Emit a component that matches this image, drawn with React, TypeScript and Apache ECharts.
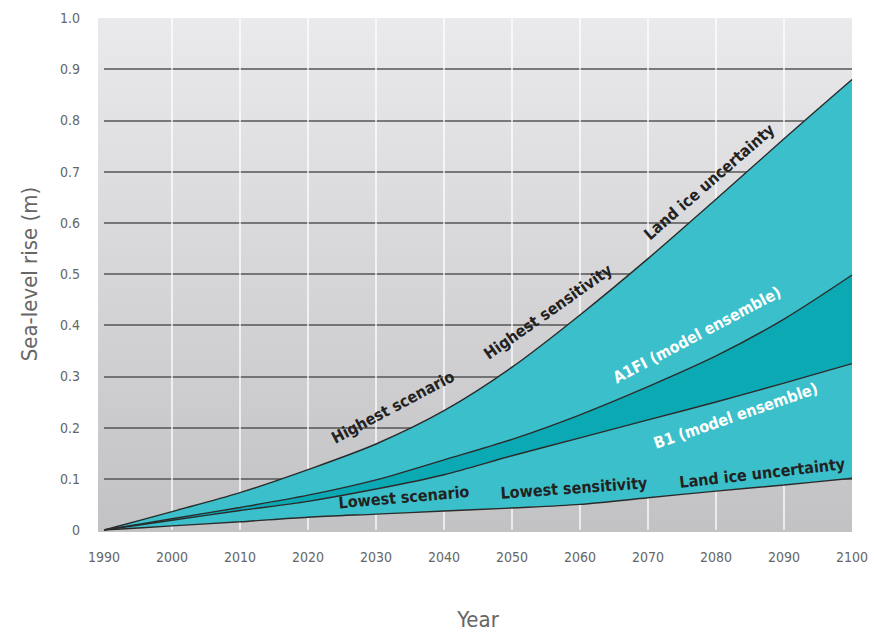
import React, { useEffect, useRef } from "react";
import * as echarts from "echarts";

const years = ["1990", "2000", "2010", "2020", "2030", "2040", "2050", "2060", "2070", "2080", "2090", "2100"];
const highest = [0, 0.036, 0.073, 0.118, 0.168, 0.233, 0.318, 0.42, 0.53, 0.646, 0.764, 0.88];
const a1fi = [0, 0.022, 0.044, 0.068, 0.098, 0.137, 0.177, 0.225, 0.28, 0.34, 0.412, 0.498];
const b1 = [0, 0.019, 0.038, 0.056, 0.08, 0.108, 0.145, 0.18, 0.215, 0.25, 0.287, 0.325];
const lowest = [0, 0.008, 0.016, 0.025, 0.031, 0.037, 0.043, 0.05, 0.063, 0.076, 0.088, 0.101];

const yMin = 0;
const yMax = 1;

// [text, year, value, rotation (deg), colour]
const annotations: [string, number, number, number, string][] = [
  ["Highest scenario", 2032.5, 0.24, 28, "#222"],
  ["Highest sensitivity", 2055.3, 0.426, 35, "#222"],
  ["Land ice uncertainty", 2079.0, 0.68, 41, "#222"],
  ["A1FI (model ensemble)", 2077.2, 0.381, 28, "#fff"],
  ["B1 (model ensemble)", 2082.9, 0.223, 19, "#fff"],
  ["Lowest scenario", 2034.1, 0.064, 5, "#222"],
  ["Lowest sensitivity", 2059.1, 0.082, 4, "#222"],
  ["Land ice uncertainty", 2086.8, 0.111, 6.5, "#222"],
];

const FONT = "'DejaVu Sans Condensed', 'Liberation Sans Narrow', 'Roboto', sans-serif";
const CYAN = "#3bbfca";
const TEAL = "#0aa9b4";
const LINE = "#2b2b2b";

export default function App() {
  const ref = useRef<HTMLDivElement>(null);
  useEffect(() => {
    if (!ref.current) return;
    const chart = echarts.init(ref.current, null, { renderer: "svg" });
    const diff = (a: number[], b: number[]) => a.map((v, i) => +(v - b[i]).toFixed(4));
    const lineStyle = { color: LINE, width: 1.4 };
    const smooth = 0.3;
    const last = years.length - 1;
    chart.setOption({
      animation: false,
      grid: { left: 104, right: 22, top: 18, bottom: 107 },
      xAxis: {
        type: "category",
        data: years,
        boundaryGap: false,
        name: "Year",
        nameLocation: "middle",
        nameGap: 78,
        nameTextStyle: { color: "#666", fontSize: 22, fontFamily: FONT },
        axisLine: { show: false },
        axisTick: { show: false },
        axisLabel: { color: "#666", fontSize: 14, margin: 20, fontFamily: FONT },
        splitLine: {
          show: true,
          interval: (i: number) => i !== 0 && i !== last,
          lineStyle: { color: "rgba(255,255,255,0.9)", width: 1.5 },
        },
      },
      yAxis: {
        type: "value",
        min: yMin,
        max: yMax,
        interval: 0.1,
        name: "Sea-level rise (m)",
        nameLocation: "middle",
        nameGap: 64,
        nameTextStyle: { color: "#666", fontSize: 22, fontFamily: FONT },
        axisLine: { show: false },
        axisTick: { show: false },
        axisLabel: {
          color: "#666",
          fontSize: 14,
          margin: 24,
          fontFamily: FONT,
          formatter: (v: number) => (v === 0 ? "0" : v.toFixed(1)),
        },
        splitLine: {
          show: true,
          showMinLine: false,
          showMaxLine: false,
          lineStyle: { color: "#555", width: 1.5 },
        },
      },
      series: [
        { type: "line", stack: "s", data: lowest, smooth, symbol: "none", lineStyle, z: 3 },
        {
          type: "line", stack: "s", data: diff(b1, lowest), smooth, symbol: "none", lineStyle,
          areaStyle: { color: CYAN, opacity: 1 }, z: 3,
        },
        {
          type: "line", stack: "s", data: diff(a1fi, b1), smooth, symbol: "none", lineStyle,
          areaStyle: { color: TEAL, opacity: 1 }, z: 3,
        },
        {
          type: "line", stack: "s", data: diff(highest, a1fi), smooth, symbol: "none", lineStyle,
          areaStyle: { color: CYAN, opacity: 1 }, z: 3,
        },
      ],
    });

    const p0 = chart.convertToPixel({ gridIndex: 0 }, [0, yMin]) as number[];
    const p1 = chart.convertToPixel({ gridIndex: 0 }, [last, yMax]) as number[];
    const y0 = +years[0];
    const y1 = +years[last];
    const toPx = (yr: number, v: number) => [
      p0[0] + ((yr - y0) / (y1 - y0)) * (p1[0] - p0[0]),
      p0[1] + ((v - yMin) / (yMax - yMin)) * (p1[1] - p0[1]),
    ];
    const bg = {
      type: "rect",
      z: -10,
      silent: true,
      shape: { x: p0[0] - 6, y: p1[1], width: p1[0] - p0[0] + 6, height: p0[1] - p1[1] + 2 },
      style: {
        fill: new echarts.graphic.LinearGradient(0, 0, 0, 1, [
          { offset: 0, color: "#eaeaec" },
          { offset: 1, color: "#c2c2c4" },
        ]),
      },
    };
    const texts = annotations.map(([t, yr, v, rot, col]) => {
      const p = toPx(yr, v);
      return {
        type: "text",
        x: p[0],
        y: p[1],
        rotation: (rot * Math.PI) / 180,
        z: 20,
        silent: true,
        style: {
          text: t,
          fill: col,
          font: `bold 16px ${FONT}`,
          textAlign: "center",
          textVerticalAlign: "middle",
        },
      };
    });
    chart.setOption({ graphic: [bg, ...texts] });
    return () => chart.dispose();
  }, []);
  return (
    <div
      ref={ref}
      style={{ position: "fixed", left: 0, top: 0, width: 874, height: 637, background: "#fff" }}
    />
  );
}
